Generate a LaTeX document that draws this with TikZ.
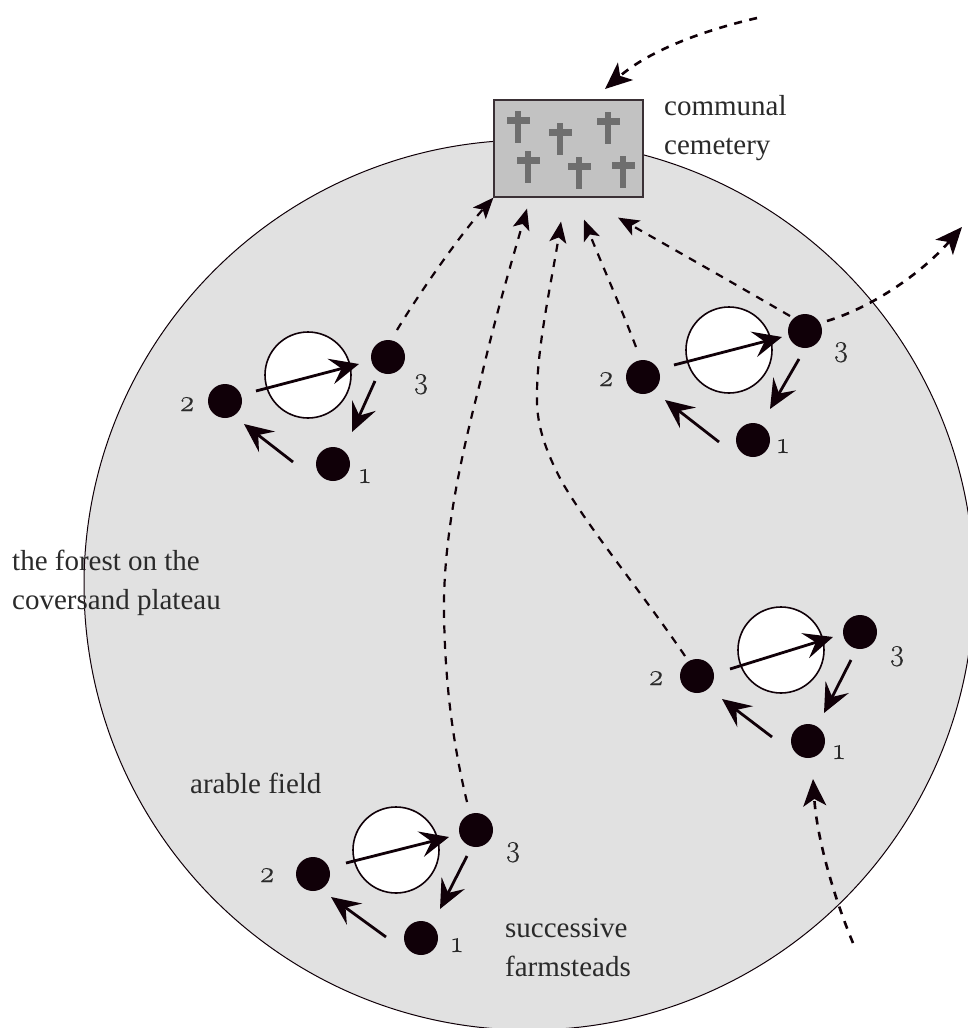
\documentclass[tikz,border=0pt]{standalone}
\usepackage{fontspec}
\setmainfont{Liberation Serif}
\newfontfamily\numfont[Numbers=OldStyle,FakeBold=0.4]{Latin Modern Roman}
\usetikzlibrary{arrows.meta}
\definecolor{ink}{HTML}{100008}
\definecolor{txt}{HTML}{2A2A2A}
\definecolor{tombc}{HTML}{6E6E6E}
\definecolor{worldc}{HTML}{E1E1E1}
\definecolor{cemc}{HTML}{C2C2C2}
\definecolor{cemline}{HTML}{3A3035}
\tikzset{
  x=1pt,y=-1pt,
  dot/.style={circle,fill=ink,inner sep=0pt,minimum size=34pt},
  fieldc/.style={circle,draw=ink,fill=white,line width=1.6pt,inner sep=0pt,minimum size=86pt},
  arr/.style={draw=ink,line width=2.8pt,-{Stealth[length=29pt,width=26pt,inset=11pt]}},
  darr/.style={draw=ink,line width=2.2pt,dash pattern=on 8pt off 7.5pt,-{Stealth[length=21pt,width=17pt,inset=5pt]}},
  darrb/.style={draw=ink,line width=2.6pt,dash pattern=on 8pt off 7.5pt,-{Stealth[length=27pt,width=23pt,inset=7pt]}},
  lab/.style={text=txt,font=\fontsize{29}{38.5}\selectfont,align=left,anchor=base west,inner sep=0pt},
  numl/.style={text=txt,font=\numfont\fontsize{30}{30}\selectfont,inner sep=0pt,anchor=base}
}
% #1 name, #2 node 2, #3 node 3, #4 node 1, #5 field
\newcommand{\farm}[5]{%
  \node[fieldc] (#1f) at (#5) {};
  \node[dot] (#12) at (#2) {};
  \node[dot] (#13) at (#3) {};
  \node[dot] (#11) at (#4) {};}
% #1 name, #2 label 2, #3 label 3, #4 label 1
\newcommand{\farmnums}[4]{%
  \node[numl] (#1n2) at (#2) {2};
  \node[numl] (#1n3) at (#3) {3};
  \node[numl] (#1n1) at (#4) {1};}
% #1 name, then six offsets from the nodes
\newcommand{\farmarrows}[7]{%
  \draw[arr] ([shift={(#2)}]#12.center) -- ([shift={(#3)}]#13.center);
  \draw[arr] ([shift={(#4)}]#13.center) -- ([shift={(#5)}]#11.center);
  \draw[arr] ([shift={(#6)}]#11.center) -- ([shift={(#7)}]#12.center);}
\newcommand{\tomb}[2]{%
  \fill[tombc] (#1-3.3,#2) rectangle (#1+3.3,#2+32);
  \fill[tombc] (#1-11.5,#2+6) rectangle (#1+11.5,#2+12.5);}
\begin{document}
\begin{tikzpicture}
\useasboundingbox (0,0) rectangle (968,1028);
\begin{scope}
\clip (0,0) rectangle (968,1028);
\node[circle,draw=ink,fill=worldc,line width=1pt,inner sep=0pt,minimum size=890pt] (world) at (529,585) {};
\end{scope}
\node[draw=cemline,line width=1.2pt,fill=cemc,inner sep=0pt,minimum width=149pt,minimum height=97pt] (cem) at (568.5,148.5) {};
\tomb{518}{111}\tomb{560}{123}\tomb{608}{112}\tomb{528}{151}\tomb{579}{157}\tomb{623}{156}
\farm{a}{225,401}{388,357}{333,464}{308,375}
\farm{b}{643,377}{805,331}{753,440}{729,350}
\farm{c}{697,676}{860,632}{808,741}{781,650}
\farm{d}{313,874}{476,830}{421,938}{396,850}
\farmnums{a}{187,411}{421,388}{365,483}
\farmnums{b}{606,386}{841,356}{783,453}
\farmnums{c}{656,685}{897,660}{839,759}
\farmnums{d}{267,882}{513,856}{457,952}
\farmarrows{a}{31,-10}{-29,7}{-13,24}{19,-32}{-40,-2}{19,23}
\farmarrows{b}{31,-12}{-23,6}{-6,28}{17,-31}{-34,2}{22,23}
\farmarrows{c}{33,-7}{-27,5}{-9,28}{16,-28}{-36,-4}{25,23}
\farmarrows{d}{33,-11}{-27,7}{-9,26}{19,-29}{-35,-1}{18,23}
\coordinate (topstart) at (757,18);
\coordinate (topend) at (605,89);
\coordinate (rightend) at (962,227);
\coordinate (botstart) at (853,943);
\draw[darrb] (topstart) .. controls (705,30) and (650,50) .. (topend);
\draw[darr] ([shift={(9,-27)}]a3.center) .. controls (420,292) and (460,235) .. (cem.south west);
\draw[darr] ([shift={(-9,-28)}]d3.center) .. controls (452,740) and (445,680) .. (444,613) .. controls (443,540) and (460,460) .. (480,383) .. controls (495,317) and (515,250) .. ([shift={(-41.5,11)}]cem.south);
\draw[darr] ([shift={(-12,-20)}]c2.center) .. controls (640,590) and (590,530) .. (562,482) .. controls (545,450) and (537,425) .. (537,400) .. controls (536,350) and (552,280) .. ([shift={(-7.5,24)}]cem.south);
\draw[darr] ([shift={(-7,-30)}]b2.center) .. controls (620,305) and (600,260) .. ([shift={(15.5,22)}]cem.south);
\draw[darr] ([shift={(-15,-15)}]b3.center) .. controls (735,284) and (675,250) .. ([shift={(49.5,20)}]cem.south);
\draw[darrb] ([shift={(22,-10)}]b3.center) .. controls (870,308) and (920,275) .. (rightend);
\draw[darrb] (botstart) .. controls (835,900) and (817,840) .. ([shift={(5,38)}]c1.center);
\node[lab] (lc) at (664,154) {communal\\cemetery};
\node[lab] (lf) at (12,609) {the forest on the\\coversand plateau};
\node[lab] (la) at (190,793) {arable field};
\node[lab] (ls) at (505,976) {successive\\farmsteads};
\end{tikzpicture}
\end{document}
